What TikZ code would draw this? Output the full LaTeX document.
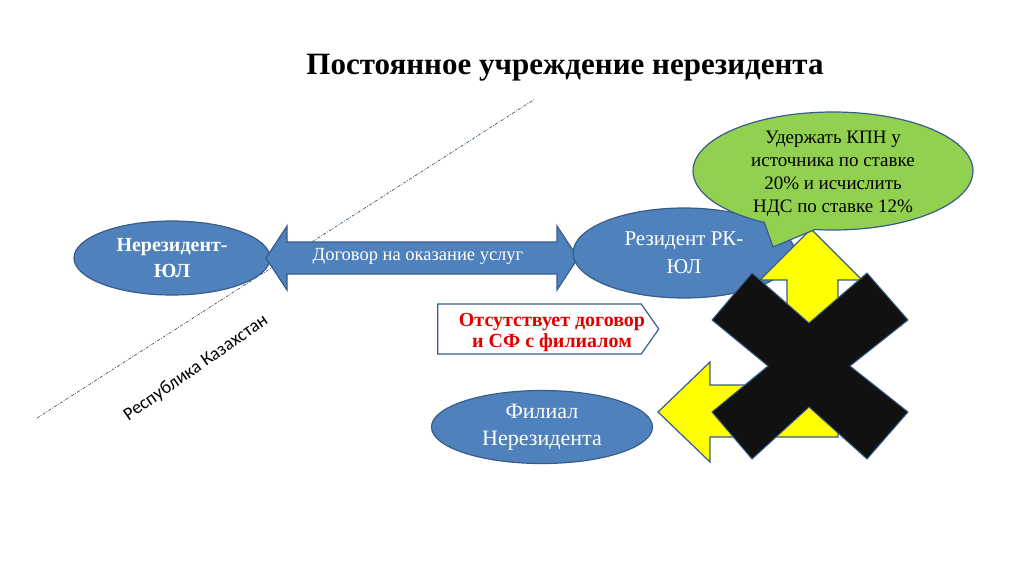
\documentclass[tikz,border=0pt]{standalone}
\usepackage{fontspec}
\setmainfont{Liberation Serif}
\newfontfamily\calib{Carlito}
\usetikzlibrary{shapes.geometric,shapes.callouts,shapes.symbols}
\definecolor{bfill}{HTML}{4F81BD}
\definecolor{bline}{HTML}{385D8A}
\definecolor{gfill}{HTML}{92D050}
\definecolor{yfill}{HTML}{FFFF00}
\definecolor{xfill}{HTML}{111111}
\definecolor{redtxt}{HTML}{E00000}
\begin{document}
\begin{tikzpicture}[x=1pt,y=-1pt,
  blueell/.style={ellipse,draw=bline,fill=bfill,line width=1.2pt,inner sep=0pt,text=white,align=center},
  shapeline/.style={draw=bline,line width=1.2pt},
  border/.style={draw=bline!70!black,dash pattern=on 3pt off 1.5pt on 0.8pt off 1.5pt,line width=0.6pt}]
\useasboundingbox[fill=white] (0,0) rectangle (1024,574);
% title
\node[font=\fontsize{31}{36}\selectfont\bfseries] (title) at (565,68) {Постоянное учреждение нерезидента};
% border line
\coordinate (b1) at (37,418);
\coordinate (b2) at (535,99);
\draw[border] (b1) -- (b2);
\node[font=\calib\fontsize{18.5}{22}\selectfont,rotate=35] (rk) at (196,368) {Республика Казахстан};
% left ellipse
\node[blueell,minimum width=196pt,minimum height=74pt,font=\fontsize{20}{26}\selectfont\bfseries] (nr) at (172,258) {Нерезидент-\\ЮЛ};
% double arrow
\path[shapeline,fill=bfill] (266,258) -- (287,226) -- (287,242) -- (557,242) -- (557,226) -- (578,258) -- (557,290) -- (557,274) -- (287,274) -- (287,290) -- cycle;
\node[text=white,font=\fontsize{18.5}{22}\selectfont] (dog) at (418,256) {Договор на оказание услуг};
% right ellipse
\node[blueell,minimum width=222pt,minimum height=90pt,font=\fontsize{21}{28}\selectfont] (rez) at (684,253) {Резидент РК-\\ЮЛ};
% filial ellipse
\node[blueell,minimum width=221pt,minimum height=73pt,font=\fontsize{22}{27}\selectfont] (fil) at (542,427) {Филиал\\Нерезидента};
% red signal box
\node[signal,signal to=east,signal from=nowhere,signal pointer angle=110,draw=bline,line width=1.2pt,fill=white,minimum width=221pt,minimum height=50pt,inner sep=1pt] (sf) at (539.5,329) {};
\node[text=redtxt,align=center,font=\fontsize{20}{21}\selectfont\bfseries] (sftext) at (552,332) {Отсутствует договор\\и СФ с филиалом};
% yellow bent arrow
\path[shapeline,fill=yfill] (658,412) -- (710,362) -- (710,385) -- (787,385) -- (787,280) -- (760,280) -- (811,229) -- (862,280) -- (838,280) -- (838,437) -- (710,437) -- (710,462) -- cycle;
% callout
\node[ellipse callout,draw=bline,line width=1.2pt,fill=gfill,minimum width=280pt,minimum height=118pt,inner sep=0pt,callout absolute pointer={(773,247)},callout pointer arc=22] (kpn) at (833,171) {};
\node[align=center,font=\fontsize{19}{23}\selectfont] (kpntext) at (833,174) {Удержать КПН у\\источника по ставке\\20\% и исчислить\\НДС по ставке 12\%};
% black X
\path[draw=bline,line width=1pt,fill=xfill] (712,320) -- (752,273) -- (809,323) -- (867,273) -- (908,320) -- (850,366) -- (908,412) -- (867,459) -- (809,407) -- (752,459) -- (712,412) -- (768,366) -- cycle;
\end{tikzpicture}
\end{document}
